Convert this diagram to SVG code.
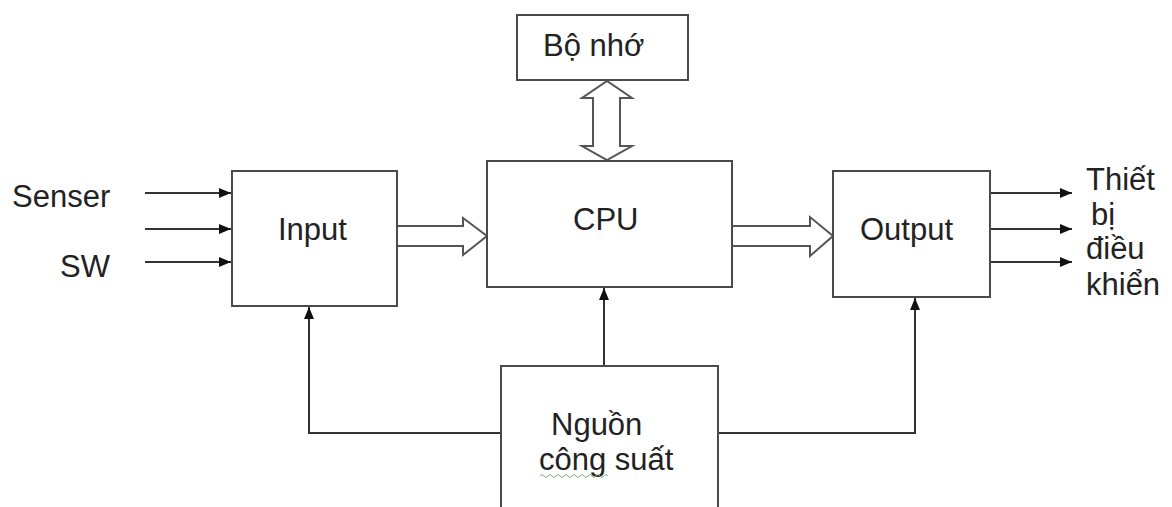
<svg xmlns="http://www.w3.org/2000/svg" width="1172" height="507" viewBox="0 0 1172 507">
<defs>
<style>
.box{fill:#fff;stroke:#4a4a4a;stroke-width:2}
.ln{fill:none;stroke:#333;stroke-width:2}
.hollow{fill:#fff;stroke:#555;stroke-width:2;stroke-linejoin:miter}
.t{font-family:"Liberation Sans",Arial,sans-serif;font-size:31px;fill:#222}
</style>
<marker id="ah" viewBox="0 0 12 10" refX="12" refY="5" markerWidth="6" markerHeight="5" markerUnits="strokeWidth" orient="auto">
<path d="M0,0 L12,5 L0,10 Z" fill="#111"/>
</marker>
</defs>
<rect width="1172" height="507" fill="#fff"/>
<g id="connectors">
<path class="ln" d="M145,193 H231" marker-end="url(#ah)"/>
<path class="ln" d="M145,229 H231" marker-end="url(#ah)"/>
<path class="ln" d="M145,262 H231" marker-end="url(#ah)"/>
<path class="ln" d="M991,193 H1072" marker-end="url(#ah)"/>
<path class="ln" d="M991,229 H1072" marker-end="url(#ah)"/>
<path class="ln" d="M991,262 H1072" marker-end="url(#ah)"/>
<path class="ln" d="M501,433 H309 V307" marker-end="url(#ah)"/>
<path class="ln" d="M604,366 V288" marker-end="url(#ah)"/>
<path class="ln" d="M718,433 H915 V298" marker-end="url(#ah)"/>
<path class="hollow" d="M397,226 H463 V218 L487,236 L463,255 V246 H397"/>
<path class="hollow" d="M732,226 H810 V217 L833,236 L810,256 V246 H732"/>
<path class="hollow" d="M593,98 H582 L607,81 L632,98 H620 V146 H632 L607,160 L582,146 H593 Z"/>
</g>
<g id="memory">
<rect class="box" x="517" y="15" width="171" height="65"/>
<text class="t" x="543" y="56">Bộ nhớ</text>
</g>
<g id="input">
<rect class="box" x="232" y="171" width="165" height="135"/>
<text class="t" x="278" y="240">Input</text>
</g>
<g id="cpu">
<rect class="box" x="487" y="161" width="245" height="126"/>
<text class="t" x="573" y="230">CPU</text>
</g>
<g id="output">
<rect class="box" x="833" y="171" width="157" height="126"/>
<text class="t" x="860" y="240">Output</text>
</g>
<g id="power">
<path class="box" d="M501,508 V366 H718 V508"/>
<text class="t" x="551" y="435">Nguồn</text>
<text class="t" x="539" y="470">công suất</text>
<path d="M540,476 q2,-3 4,0 t4,0 t4,0 t4,0 t4,0 t4,0 t4,0 t4,0 t4,0 t4,0 t4,0 t4,0 t4,0 t4,0 t4,0 t4,0 t4,0" fill="none" stroke="#7cb87c" stroke-width="1"/>
</g>
<g id="labels">
<text class="t" x="12" y="207">Senser</text>
<text class="t" x="110" y="277" text-anchor="end">SW</text>
<text class="t" x="1086" y="190">Thiết</text>
<text class="t" x="1091" y="225">bị</text>
<text class="t" x="1086" y="259">điều</text>
<text class="t" x="1086" y="295">khiển</text>
</g>
</svg>
